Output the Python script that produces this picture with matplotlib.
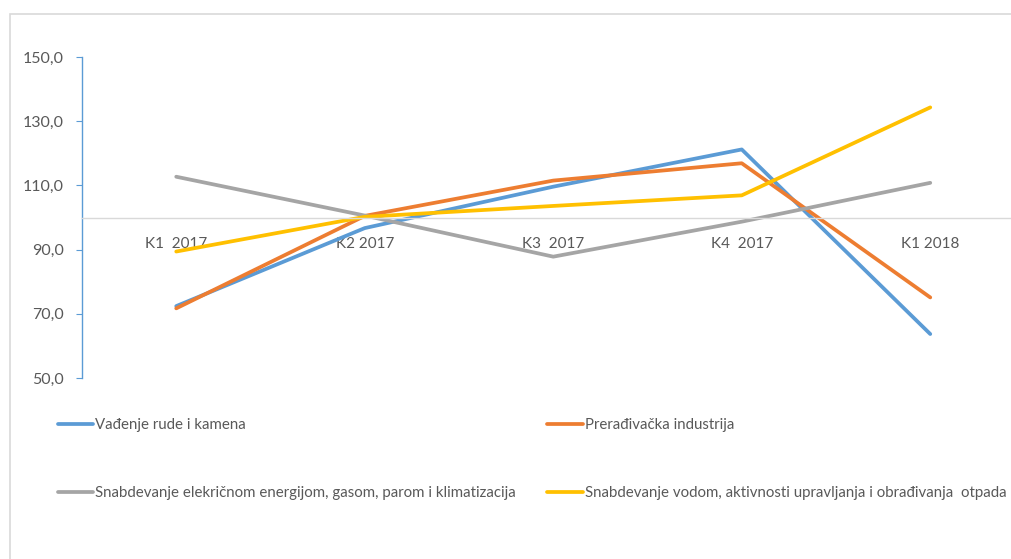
import numpy as np
import matplotlib.pyplot as plt
from matplotlib.patches import Rectangle

plt.rcParams['font.family'] = ['Lato', 'DejaVu Sans']

# Quarters and index values
quarters = ["K1  2017", "K2 2017", "K3  2017", "K4  2017", "K1 2018"]
vadjenje = [72.4, 96.7, 109.6, 121.2, 63.7]
preradjivacka = [71.7, 100.5, 111.5, 116.9, 75.1]
snabd_energija = [112.7, 100.6, 87.8, 98.7, 110.8]
snabd_voda = [89.4, 100.2, 103.6, 106.9, 134.3]

labels = ["Vađenje rude i kamena",
          "Prerađivačka industrija",
          "Snabdevanje elekričnom energijom, gasom, parom i klimatizacija",
          "Snabdevanje vodom, aktivnosti upravljanja i obrađivanja  otpada"]
colors = ["#5B9BD5", "#ED7D31", "#A5A5A5", "#FFC000"]

fig = plt.figure(figsize=(10.11, 5.59), dpi=100)
# outer chart frame
fig.patches.append(Rectangle((9.5 / 1011, -0.1), 1.1, (559 - 14) / 559 + 0.1,
                             transform=fig.transFigure, fill=False,
                             edgecolor="#D9D9D9", lw=1.2))

ax = fig.add_axes([82 / 1011, 181 / 559, 942.5 / 1011, 321 / 559])
x = np.arange(len(quarters))
series = [vadjenje, preradjivacka, snabd_energija, snabd_voda]
lines = []
for vals, lab, c in zip(series, labels, colors):
    ln, = ax.plot(x, vals, color=c, lw=2.7, label=lab, solid_capstyle='round')
    lines.append(ln)

ax.set_xlim(-0.5, len(quarters) - 0.5)
ax.set_ylim(50, 150)
ax.set_yticks(np.arange(50, 151, 20))
ax.set_yticklabels([f"{v:.1f}".replace(".", ",") for v in np.arange(50, 151, 20)])

for s in ["top", "right"]:
    ax.spines[s].set_visible(False)
ax.spines["left"].set_color("#5B9BD5")
ax.spines["left"].set_linewidth(1.0)
ax.spines["bottom"].set_position(("data", 100))
ax.spines["bottom"].set_color("#D9D9D9")
ax.spines["bottom"].set_linewidth(1.0)

ax.set_xticks(x)
ax.set_xticklabels(quarters)
ax.tick_params(axis="x", length=0, pad=14, labelsize=11, labelcolor="#595959")
ax.tick_params(axis="y", direction="out", length=4, color="#5B9BD5",
               labelsize=11.5, labelcolor="#595959", pad=9)

order = [0, 2, 1, 3]
fig.legend([lines[i] for i in order], [labels[i] for i in order],
           ncol=2, loc="upper left", bbox_to_anchor=(44 / 1011, 1 - 405 / 559),
           frameon=False, fontsize=10.8, labelcolor="#595959",
           handlelength=2.35, handletextpad=0.15, labelspacing=3.55,
           columnspacing=2.1)

fig.savefig("out.png", dpi=100)
